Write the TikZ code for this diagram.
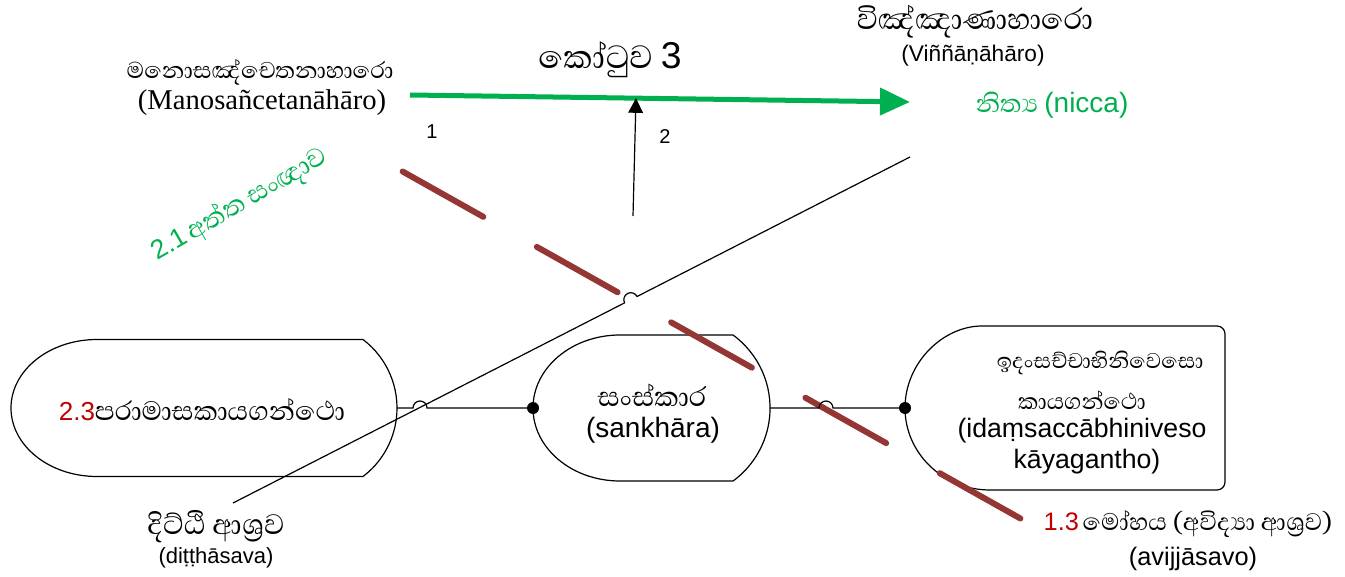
\documentclass[tikz,border=0pt]{standalone}
\usepackage{fontspec}
\setmainfont{Liberation Sans}
\newfontfamily\serifL{Liberation Serif}
\newfontfamily\arialf{Liberation Sans}
\newfontfamily\sinhalafont[Script=Sinhala]{Abhaya Libre}
\usetikzlibrary{arrows.meta,calc}
\definecolor{grn}{HTML}{00B050}
\definecolor{rtx}{HTML}{C00000}
\definecolor{rln}{HTML}{943634}
\newcommand{\fs}[1]{\fontsize{#1}{#1}\selectfont}
\begin{document}
\begin{tikzpicture}[x=0.75pt,y=-0.75pt,
  txt/.style={inner sep=0pt,outer sep=0pt},
  shapebox/.style={inner sep=0pt,outer sep=0pt,draw=none},
  outline/.style={draw=black,line width=0.9pt},
  conn/.style={draw=black,line width=0.9pt},
  dotend/.style={fill=black},
  redline/.style={draw=rln,line width=4.5pt,line cap=round,dash pattern=on 69.45pt off 46.05pt},
  grnarrow/.style={draw=grn,line width=3.75pt,-{Triangle[length=22.5pt,width=20pt]}},
  blkarrow/.style={draw=black,line width=0.9pt,-{Triangle[length=11pt,width=11pt]}}]
\useasboundingbox (0,0) rectangle (1345,577);

% shape nodes
\node[shapebox,minimum width=289.5pt,minimum height=102.75pt] (L) at (204,408) {};
\node[shapebox,minimum width=177.75pt,minimum height=109.5pt] (C) at (651.5,408) {};
\node[shapebox,minimum width=240pt,minimum height=123pt] (R) at (1065,408) {};

% outlines
\draw[outline] (97,339.5) -- (363,339.5) arc[start angle=52.8,end angle=-52.8,radius=64.5pt]
  -- (97,476.5) arc[start angle=270,end angle=90,x radius=64.5pt,y radius=51.375pt] -- cycle;
\draw[outline] (620,335) -- (733,335) arc[start angle=53.8,end angle=-53.8,radius=67.875pt]
  -- (620,481) arc[start angle=270,end angle=90,x radius=65.25pt,y radius=54.75pt] -- cycle;
\draw[outline] (990,326) arc[start angle=90,end angle=270,x radius=63.75pt,y radius=61.5pt]
  [rounded corners=6pt] -- (1225,490) -- (1225,326) -- cycle;

% red dashed line
\coordinate (M1) at (402.6,171.5);
\coordinate (M2) at (1020.4,518.5);
\draw[redline] (M1) -- (M2);

% diagonal black line with jump
\coordinate (D1) at (233,503);
\coordinate (D2) at (910,157);
\draw[conn] (D1) -- ($(D1)!0.5784!(D2)$) arc[start angle=207.07,end angle=27.07,radius=5.25pt] -- (D2);

% horizontal connectors
\draw[conn] (L.east) -- (413,408) arc[start angle=180,end angle=0,radius=5.25pt] -- (C.west);
\fill[dotend] (C.west) circle[radius=4.5pt];
\draw[conn] (C.east) -- (819,408) arc[start angle=180,end angle=0,radius=5.25pt] -- (R.west);
\fill[dotend] (R.west) circle[radius=4.5pt];

% green arrow
\coordinate (G1) at (410,95);
\coordinate (G2) at (910,102);
\draw[grnarrow] (G1) -- (G2);
\coordinate (A1) at (633,216);
\draw[blkarrow] (A1) -- ($(G1)!0.452!(G2)$);

% texts
\node[txt] (tl1) at (260,72) {\sinhalafont\fs{22}මනොසඤ්චෙතනාහාරො};
\node[txt] (tl2) at (262,103) {\serifL\fs{21.5}(Manosañcetanāhāro)};
\node[txt] (kot) at (610,60) {\sinhalafont\fs{31}කෝටුව {\arialf\fs{28}3}};
\node[txt] (tr1) at (975,22) {\sinhalafont\fs{28}විඤ්ඤාණාහාරො};
\node[txt] (tr2) at (973,56) {\arialf\fs{17}(Viññāṇāhāro)};
\node[txt,text=grn] (nic) at (1052,105) {\sinhalafont\fs{24}නිත්‍ය {\arialf\fs{21}(nicca)}};
\node[txt] (one) at (432,132) {\arialf\fs{15}1};
\node[txt] (two) at (665,137) {\arialf\fs{15}2};
\node[txt,text=grn,rotate=30] (att) at (240,205) {{\arialf\fs{20}2.1} \sinhalafont\fs{25}අත්ත සංඥාව};
\node[txt] (ltx) at (202,410) {{\arialf\fs{19.5}\textcolor{rtx}{2.3}}\sinhalafont\fs{25.5}පරාමාසකායගන්ථො};
\node[txt] (ct1) at (652,395) {\sinhalafont\fs{26}සංස්කාර};
\node[txt] (ct2) at (653,430) {\arialf\fs{21}(sankhāra)};
\node[txt] (rt1) at (1100,363) {\sinhalafont\fs{20.5}ඉදංසච්චාභිනිවෙසො};
\node[txt] (rt2) at (1082,400) {\sinhalafont\fs{21.5}කායගන්ථො};
\node[txt] (rt3) at (1082,431) {\arialf\fs{20}(idaṃsaccābhiniveso};
\node[txt] (rt4) at (1087,462) {\arialf\fs{20}kāyagantho)};
\node[txt] (bl1) at (216,527) {\sinhalafont\fs{27}දිට්ඨි ආශ්‍රව};
\node[txt] (bl2) at (216,558) {\arialf\fs{16.5}(diṭṭhāsava)};
\node[txt] (br1) at (1188,524) {{\arialf\fs{19}\textcolor{rtx}{1.3}} \sinhalafont\fs{23}මෝහය (අවිද්‍යා ආශ්‍රව)};
\node[txt] (br2) at (1193,559) {\arialf\fs{19}(avijjāsavo)};
\end{tikzpicture}
\end{document}
